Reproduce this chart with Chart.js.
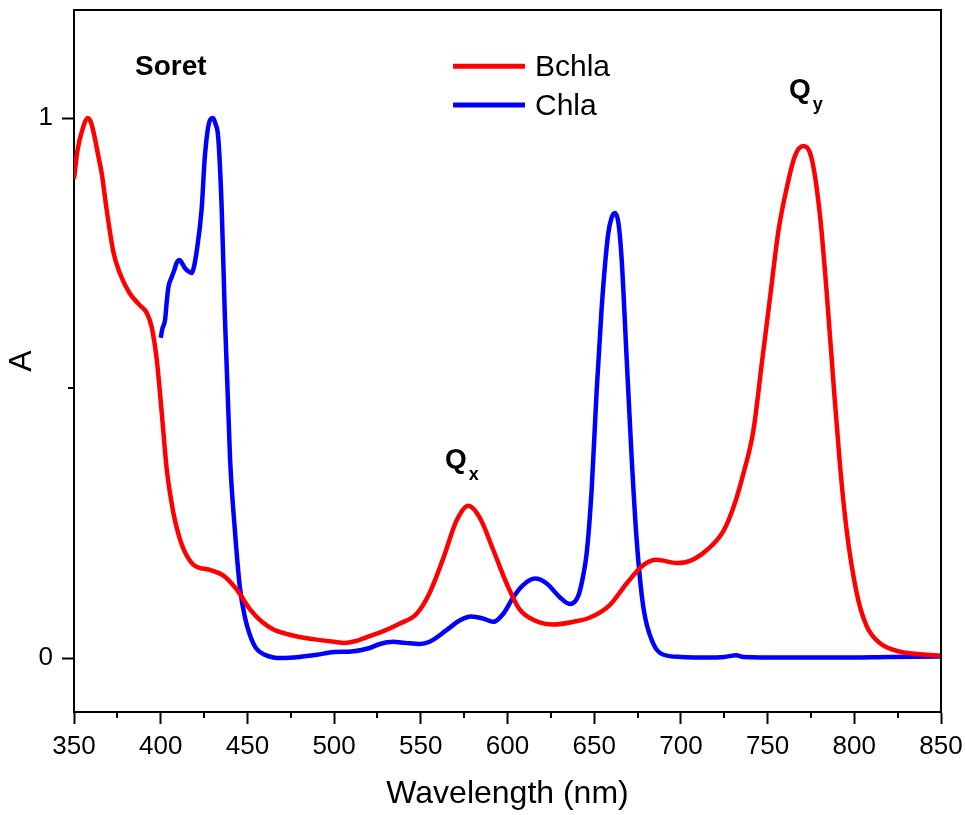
<!DOCTYPE html>
<html><head><meta charset="utf-8">
<script src="https://cdn.jsdelivr.net/npm/chart.js@4"></script>
<style>html,body{margin:0;padding:0;background:#fff;overflow:hidden}</style>
</head><body>
<canvas id="c" width="965" height="815"></canvas>
<script>
// ---- data ----
const seriesLabels = ['Bchla', 'Chla'];
const bchlaWavelength = [350,352,355,358,360,362,364,366,368.8,372.7,376.5,382,388,392,394.8,397.7,400.6,403.5,407.3,410,413,418.8,428.4,436,443.8,451.5,458,465,472,480,490,500,506,512,520,527,538,547.6,555,563,570.7,577.4,584,591.8,599.5,607,616.8,626.4,638,647.6,659,668.7,678.3,686,697.6,705.3,715,724.5,730.3,736,741.8,746.6,751.4,756.2,761,765.8,770.6,775.4,780.2,784,787.9,791.7,795.6,801.4,807,814.6,826,838,850];
const bchlaAbs = [0.887,0.94,0.98,1.0,0.99,0.963,0.93,0.897,0.831,0.752,0.712,0.676,0.653,0.639,0.613,0.553,0.454,0.349,0.269,0.232,0.203,0.173,0.163,0.153,0.127,0.09,0.068,0.053,0.045,0.039,0.034,0.03,0.028,0.031,0.04,0.048,0.064,0.082,0.12,0.185,0.255,0.282,0.26,0.2,0.138,0.09,0.068,0.062,0.067,0.075,0.098,0.138,0.172,0.182,0.176,0.18,0.2,0.235,0.279,0.341,0.421,0.544,0.667,0.79,0.87,0.93,0.948,0.925,0.82,0.68,0.513,0.359,0.236,0.12,0.06,0.028,0.012,0.007,0.004];
const chlaWavelength = [400,401,402.5,403.5,404.4,406.3,408,409.2,411,412.5,414,416,417.9,419,420.7,423.6,425.5,428.4,430.3,431.5,433.2,435.2,437,440,442.8,445.7,448.6,451.5,455,460,465,470,480,490,500,510,520,526.5,534,541,549.5,555,565,572.6,579,586,591.8,597.6,603.4,609,615.9,622.6,630,636,640.8,643.5,645.7,648.5,651.4,654.3,658,660,662,664,665.8,668.7,671.6,674.5,678.3,684,690,700,715,725,732,736,760,790,820,850];
const chlaAbs = [0.593,0.61,0.626,0.66,0.686,0.705,0.72,0.732,0.737,0.73,0.722,0.716,0.713,0.722,0.752,0.831,0.93,0.996,1.0,0.99,0.963,0.831,0.633,0.369,0.236,0.13,0.075,0.042,0.018,0.006,0.001,0.0,0.002,0.006,0.011,0.012,0.018,0.026,0.03,0.028,0.026,0.03,0.052,0.07,0.077,0.073,0.067,0.082,0.113,0.135,0.147,0.138,0.113,0.1,0.115,0.15,0.195,0.31,0.494,0.648,0.784,0.815,0.824,0.805,0.74,0.556,0.371,0.218,0.095,0.027,0.006,0.002,0.001,0.002,0.005,0.002,0.001,0.001,0.002,0.003];
const xTickValues = [350,400,450,500,550,600,650,700,750,800,850];
const xMinorTickValues = [375,425,475,525,575,625,675,725,775,825];
const yTickValues = [0,1];
const yMinorTickValues = [0.5];
const xAxisTitle = 'Wavelength (nm)';
const yAxisTitle = 'A';

const FONT = "'Liberation Sans', Arial, Helvetica, sans-serif";
const toPoints = (xs, ys) => xs.map((x, i) => ({x, y: ys[i]}));

const extrasPlugin = {
  id: 'extras',
  afterDraw(chart) {
    const ctx = chart.ctx, a = chart.chartArea;
    const xs = chart.scales.x, ys = chart.scales.y;
    ctx.save();
    // frame (top and right)
    ctx.strokeStyle = '#000'; ctx.lineWidth = 2;
    ctx.beginPath();
    ctx.moveTo(a.left, a.top); ctx.lineTo(a.right, a.top); ctx.lineTo(a.right, a.bottom);
    ctx.stroke();
    // minor ticks
    ctx.beginPath();
    xMinorTickValues.forEach(v => { const p = Math.round(xs.getPixelForValue(v)); ctx.moveTo(p, a.bottom); ctx.lineTo(p, a.bottom + 6); });
    yMinorTickValues.forEach(v => { const p = Math.round(ys.getPixelForValue(v)); ctx.moveTo(a.left, p); ctx.lineTo(a.left - 6, p); });
    ctx.stroke();
    // annotations
    ctx.fillStyle = '#000';
    ctx.textBaseline = 'alphabetic'; ctx.textAlign = 'left';
    ctx.font = 'bold 28px ' + FONT;
    ctx.fillText('Soret', xs.getPixelForValue(385.2), ys.getPixelForValue(1.079));
    const drawQ = (nm, val, sub) => {
      const x = xs.getPixelForValue(nm), y = ys.getPixelForValue(val);
      ctx.font = 'bold 28px ' + FONT;
      ctx.fillText('Q', x, y);
      const w = ctx.measureText('Q').width;
      ctx.font = 'bold 18px ' + FONT;
      ctx.fillText(sub, x + w + 2, y + 12);
    };
    drawQ(564, 0.352, 'x');
    drawQ(762.3, 1.037, 'y');
    // legend
    const colors = ['#ff0000', '#0000ff'];
    const lx0 = xs.getPixelForValue(568.6), lx1 = xs.getPixelForValue(610.1);
    const rows = [ys.getPixelForValue(1.096), ys.getPixelForValue(1.024)];
    ctx.font = '30px ' + FONT;
    ctx.textBaseline = 'middle';
    seriesLabels.forEach((lab, i) => {
      ctx.strokeStyle = colors[i]; ctx.lineWidth = 5;
      ctx.beginPath(); ctx.moveTo(lx0, rows[i]); ctx.lineTo(lx1, rows[i]); ctx.stroke();
      ctx.fillText(lab, lx1 + 10, rows[i] + 2);
    });
    ctx.restore();
  }
};

new Chart(document.getElementById('c'), {
  type: 'line',
  data: {
    datasets: [
      { label: seriesLabels[0], data: toPoints(bchlaWavelength, bchlaAbs), borderColor: '#ff0000', borderWidth: 4.5, pointRadius: 0, cubicInterpolationMode: 'monotone', fill: false },
      { label: seriesLabels[1], data: toPoints(chlaWavelength, chlaAbs), borderColor: '#0000ff', borderWidth: 4.5, pointRadius: 0, cubicInterpolationMode: 'monotone', fill: false }
    ]
  },
  options: {
    responsive: false,
    animation: false,
    devicePixelRatio: 1,
    layout: { padding: { top: 10, right: 24, left: 0, bottom: 0 } },
    plugins: { legend: { display: false }, tooltip: { enabled: false } },
    scales: {
      x: {
        type: 'linear', min: 350, max: 850,
        afterFit(s) { s.height = 103; s.paddingLeft = 0; s.paddingRight = 0; },
        afterBuildTicks(s) { s.ticks = xTickValues.map(v => ({value: v})); },
        ticks: { color: '#000', font: { family: FONT, size: 26 }, padding: 7, maxRotation: 0, autoSkip: false },
        grid: { drawOnChartArea: false, drawTicks: true, tickLength: 12, tickWidth: 2, tickColor: '#000' },
        border: { display: true, color: '#000', width: 2 },
        title: { display: true, text: xAxisTitle, color: '#000', font: { family: FONT, size: 32 }, padding: { top: 0, bottom: 2 } }
      },
      y: {
        type: 'linear', min: -0.1, max: 1.2,
        afterFit(s) { s.width = 74; s.paddingTop = 0; s.paddingBottom = 0; },
        afterBuildTicks(s) { s.ticks = yTickValues.map(v => ({value: v})); },
        ticks: { color: '#000', font: { family: FONT, size: 26 }, padding: 9, autoSkip: false, callback: v => String(v) },
        grid: { drawOnChartArea: false, drawTicks: true, tickLength: 12, tickWidth: 2, tickColor: '#000' },
        border: { display: true, color: '#000', width: 2 },
        title: { display: true, text: yAxisTitle, color: '#000', font: { family: FONT, size: 32 }, padding: { top: 3, bottom: 0 } }
      }
    }
  },
  plugins: [extrasPlugin]
});
</script>
</body></html>
